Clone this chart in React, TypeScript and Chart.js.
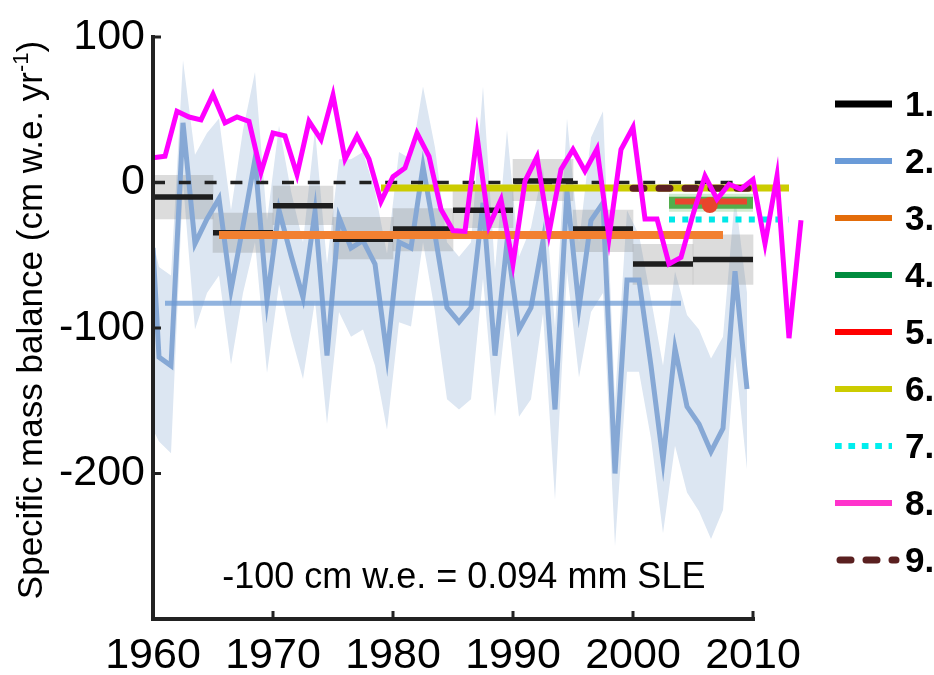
import React, { useEffect, useRef } from 'react';
import { Chart, registerables } from 'chart.js';

Chart.register(...registerables);

const FONT = "'Liberation Sans', Arial, Helvetica, sans-serif";

// ---------- axis ticks ----------
const xTickValues = [1960, 1970, 1980, 1990, 2000, 2010];
const yTickValues = [100, 0, -100, -200];

// ---------- series 8 (magenta, annual) ----------
const magentaYears = [
  1960, 1961, 1962, 1963, 1964, 1965, 1966, 1967, 1968, 1969,
  1970, 1971, 1972, 1973, 1974, 1975, 1976, 1977, 1978, 1979,
  1980, 1981, 1982, 1983, 1984, 1985, 1986, 1987, 1988, 1989,
  1990, 1991, 1992, 1993, 1994, 1995, 1996, 1997, 1998, 1999,
  2000, 2001, 2002, 2003, 2004, 2005, 2006, 2007, 2008, 2009,
  2010, 2011, 2012, 2013, 2014,
];
const magentaValues = [
  17, 18, 49, 45, 43, 60.5, 41, 45, 42, 7,
  34, 32, 5.5, 42, 29.5, 60, 16, 32, 16, -13,
  4, 10, 34, 18, -18.5, -33, -33.5, 32, -30, -11.7,
  -56, 1, 17.6, -34.6, 9, 22.7, 7.8, 23, -38, 22.7,
  38, -25, -25, -56, -51.5, -22, 4.5, -11.5, -1.2, -4.5,
  2, -42, 4.5, -107, -26,
];

// ---------- series 2 (blue, annual with uncertainty band) ----------
const blueYears = [
  1960, 1960.5, 1961.5, 1962.5, 1963.5, 1964.5, 1965.5, 1966.5, 1967.5, 1968.5,
  1969.5, 1970.5, 1971.5, 1972.5, 1973.5, 1974.5, 1975.5, 1976.5, 1977.5, 1978.5,
  1979.5, 1980.5, 1981.5, 1982.5, 1983.5, 1984.5, 1985.5, 1986.5, 1987.5, 1988.5,
  1989.5, 1990.5, 1991.5, 1992.5, 1993.5, 1994.5, 1995.5, 1996.5, 1997.5, 1998.5,
  1999.5, 2000.5, 2001.5, 2002.5, 2003.5, 2004.5, 2005.5, 2006.5, 2007.5, 2008.5,
  2009.5,
];
const blueValues = [
  -45, -120, -126, 41, -42, -25, -11, -74, -30, 16,
  -81, -19, -50, -79, -20, -119, -24, -45, -40, -56,
  -119, -41, -45, 11, -36, -86, -96, -86, -14, -119,
  -41, -101, -86, -40, -156, -6, -86, -26, -14, -200,
  -67, -67, -126, -191, -114, -154, -166, -185, -169, -61,
  -142,
];
const blueUpper = [
  -40, -58, -64, 84, 19, 34, 44, -19, 36, 76,
  -26, 39, -6, -41, 36, -56, 16, 16, 21, -6,
  -49, 21, 16, 66, 24, -41, -51, -41, 66, -60,
  36, -51, -31, 10, -100, 44, -41, 31, 49, -150,
  -19, -36, -80, -126, -61, -91, -101, -121, -106, -9,
  -76,
];
const blueLower = [
  -170, -178, -186, 0, -101, -76, -64, -125, -76, -41,
  -131, -70, -105, -135, -81, -166, -89, -106, -101, -126,
  -170, -96, -99, -41, -89, -149, -156, -149, -66, -161,
  -86, -161, -149, -90, -218, -61, -134, -89, -76, -250,
  -130, -130, -176, -241, -181, -213, -226, -245, -225, -119,
  -197,
];
const blueMeanSpan = [1961, 2004];
const blueMeanValue = -83;

// ---------- series 1 (black, pentadal means with grey uncertainty) ----------
const pentadStarts = [1960, 1965, 1970, 1975, 1980, 1985, 1990, 1995, 2000, 2005];
const pentadEnds = [1965, 1970, 1975, 1980, 1985, 1990, 1995, 2000, 2005, 2010];
const pentadMeans = [-10, -34.5, -16, -39, -32, -19, 1, -32, -56, -53];
const pentadHighs = [5, -21, -2.5, -24, -18, -6, 16, -19, -42.5, -36];
const pentadLows = [-25, -48, -29, -52.5, -47, -31, -12.5, -47.5, -70, -70];

// ---------- other period means ----------
const orangeSpan = [1965.5, 2007.5];
const orangeValue = -36;
const greenSpan = [2003, 2010];
const greenValue = -14;
const redSpan = [2003.5, 2009.5];
const redValue = -13;
const redPointYear = [2006.4];
const redPointValue = [-15.5];
const yellowSpan = [1979, 2013];
const yellowValue = -3.75;
const cyanSpan = [2003, 2013];
const cyanValue = -25.5;
const magentaEnd = 2014;
const brownSpan = [2000, 2010.5];
const brownValue = -4;
const zeroSpan = [1960, 2009];
const zeroValue = 0;

// ---------- legend ----------
const legendLabels = ['1.', '2.', '3.', '4.', '5.', '6.', '7.', '8.', '9.'];
const legendStyles = [
  { color: '#000000', width: 7, dash: [] as number[], cap: 'butt' },
  { color: '#6A9BD8', width: 6, dash: [] as number[], cap: 'butt' },
  { color: '#E36C0A', width: 6, dash: [] as number[], cap: 'butt' },
  { color: '#008C3E', width: 6, dash: [] as number[], cap: 'butt' },
  { color: '#FF0000', width: 6, dash: [] as number[], cap: 'butt' },
  { color: '#CCCC00', width: 6, dash: [] as number[], cap: 'butt' },
  { color: '#00EEEE', width: 6, dash: [6.7, 6.7], cap: 'butt' },
  { color: '#FF33CC', width: 6, dash: [] as number[], cap: 'butt' },
  { color: '#5A2020', width: 7, dash: [11, 15], cap: 'round' },
];

const annotationText = '-100 cm w.e. = 0.094 mm SLE';

const pts = (xs: number[], ys: number[]) => xs.map((x, i) => ({ x, y: ys[i] }));
const seg = (span: number[], v: number) => [
  { x: span[0], y: v },
  { x: span[1], y: v },
];

const decorPlugin = {
  id: 'decor',
  afterDraw(chart: any) {
    const { ctx, chartArea } = chart;
    const xs = chart.scales.x;
    const ys = chart.scales.y;
    ctx.save();

    // axes lines
    const x0 = xs.getPixelForValue(1960);
    const x1 = xs.getPixelForValue(2010);
    const yTop = ys.getPixelForValue(100);
    const yBot = ys.getPixelForValue(-300);
    ctx.strokeStyle = '#222222';
    ctx.lineWidth = 4;
    ctx.lineJoin = 'miter';
    ctx.lineCap = 'square';
    ctx.setLineDash([]);
    ctx.beginPath();
    ctx.moveTo(x0, yTop);
    ctx.lineTo(x0, yBot);
    ctx.lineTo(x1, yBot);
    ctx.stroke();
    ctx.lineCap = 'butt';
    ctx.lineWidth = 3;
    yTickValues.forEach((v) => {
      const y = ys.getPixelForValue(v);
      ctx.beginPath();
      ctx.moveTo(x0, y);
      ctx.lineTo(x0 + 8, y);
      ctx.stroke();
    });
    xTickValues.forEach((v) => {
      if (v === 1960) return;
      const x = xs.getPixelForValue(v);
      ctx.beginPath();
      ctx.moveTo(x, yBot);
      ctx.lineTo(x, yBot - 8);
      ctx.stroke();
    });

    // y-axis title with superscript
    ctx.fillStyle = '#000000';
    ctx.translate(42, (chartArea.top + chartArea.bottom) / 2 - 8);
    ctx.rotate(-Math.PI / 2);
    const main = 'Specific mass balance (cm w.e. yr';
    const sup = '-1';
    const tail = ')';
    ctx.textBaseline = 'alphabetic';
    ctx.textAlign = 'left';
    ctx.font = `35px ${FONT}`;
    const w1 = ctx.measureText(main).width;
    const w3 = ctx.measureText(tail).width;
    ctx.font = `22px ${FONT}`;
    const w2 = ctx.measureText(sup).width;
    let tx = -(w1 + w2 + w3) / 2;
    ctx.font = `35px ${FONT}`;
    ctx.fillText(main, tx, 0);
    tx += w1;
    ctx.font = `22px ${FONT}`;
    ctx.fillText(sup, tx, -14);
    tx += w2;
    ctx.font = `35px ${FONT}`;
    ctx.fillText(tail, tx, 0);
    ctx.setTransform(1, 0, 0, 1, 0, 0);

    // annotation
    ctx.font = `36px ${FONT}`;
    ctx.textAlign = 'center';
    ctx.textBaseline = 'alphabetic';
    ctx.fillStyle = '#000000';
    ctx.fillText(annotationText, xs.getPixelForValue(1985.9), ys.getPixelForValue(-278.7));

    // legend
    const lx0 = 835;
    const lx1 = 892;
    legendLabels.forEach((label, i) => {
      const st = legendStyles[i];
      const y = 104 + i * 57;
      ctx.strokeStyle = st.color;
      ctx.lineWidth = st.width;
      ctx.setLineDash(st.dash);
      ctx.lineCap = st.cap as CanvasLineCap;
      ctx.beginPath();
      if (st.cap === 'round') {
        ctx.moveTo(lx0 + 5, y);
        ctx.lineTo(lx1 + 4, y);
      } else {
        ctx.moveTo(lx0, y);
        ctx.lineTo(lx1, y);
      }
      ctx.stroke();
      ctx.setLineDash([]);
      ctx.font = `bold 35px ${FONT}`;
      ctx.textAlign = 'left';
      ctx.fillStyle = '#000000';
      ctx.fillText(label, 905, y + 12);
    });
    ctx.restore();
  },
};

const lineBase = {
  type: 'line',
  pointRadius: 0,
  fill: false,
  tension: 0,
  borderCapStyle: 'butt',
  borderJoinStyle: 'miter',
};

export default function App() {
  const canvasRef = useRef<HTMLCanvasElement | null>(null);

  useEffect(() => {
    if (!canvasRef.current) return;

    const blackSegments: any[] = [];
    pentadStarts.forEach((s, i) => {
      blackSegments.push({ x: s, y: pentadMeans[i] });
      blackSegments.push({ x: pentadEnds[i], y: pentadMeans[i] });
      blackSegments.push({ x: pentadEnds[i], y: null });
    });

    const datasets: any[] = [
      {
        ...lineBase,
        label: 'band upper',
        data: pts(blueYears, blueUpper),
        borderColor: 'rgba(0,0,0,0)',
        borderWidth: 1,
        backgroundColor: '#DCE6F2',
        fill: '+1',
        order: 100,
      },
      {
        ...lineBase,
        label: 'band lower',
        data: pts(blueYears, blueLower),
        borderColor: 'rgba(0,0,0,0)',
        borderWidth: 1,
        order: 100,
      },
      {
        type: 'bar',
        label: 'pentad uncertainty',
        data: pentadStarts.map((s, i) => ({
          x: (s + pentadEnds[i]) / 2,
          y: [pentadLows[i], pentadHighs[i]],
        })),
        backgroundColor: 'rgba(128,128,128,0.28)',
        borderWidth: 0,
        barPercentage: 1,
        categoryPercentage: 1,
        order: 90,
      },
      {
        ...lineBase,
        label: '2',
        data: pts(blueYears, blueValues),
        borderColor: '#86A8D5',
        borderWidth: 5,
        order: 80,
      },
      {
        ...lineBase,
        label: '2 mean',
        data: seg(blueMeanSpan, blueMeanValue),
        borderColor: 'rgba(110,155,212,0.75)',
        borderWidth: 5,
        order: 75,
      },
      {
        ...lineBase,
        label: '1',
        data: blackSegments,
        borderColor: '#1E1E1E',
        borderWidth: 5.5,
        spanGaps: false,
        order: 60,
      },
      {
        ...lineBase,
        label: '3',
        data: seg(orangeSpan, orangeValue),
        borderColor: '#F28030',
        borderWidth: 8,
        order: 55,
      },
      {
        ...lineBase,
        label: 'zero',
        data: seg(zeroSpan, zeroValue),
        borderColor: '#222222',
        borderWidth: 3.5,
        borderDash: [12, 13.8],
        order: 50,
      },
      {
        ...lineBase,
        label: '6',
        data: seg(yellowSpan, yellowValue),
        borderColor: '#CCCC00',
        borderWidth: 7,
        order: 45,
      },
      {
        ...lineBase,
        label: '4 halo',
        data: seg(greenSpan, greenValue),
        borderColor: 'rgba(150,210,150,0.45)',
        borderWidth: 18,
        order: 44,
      },
      {
        ...lineBase,
        label: '4',
        data: seg(greenSpan, greenValue),
        borderColor: '#52AE4C',
        borderWidth: 12,
        order: 43,
      },
      {
        ...lineBase,
        label: '5',
        data: seg(redSpan, redValue),
        borderColor: '#E8472E',
        borderWidth: 6,
        order: 42,
      },
      {
        ...lineBase,
        label: '5 point',
        data: pts(redPointYear, redPointValue),
        showLine: false,
        pointRadius: 8,
        pointBackgroundColor: '#E8452C',
        pointBorderWidth: 0,
        pointBorderColor: 'rgba(0,0,0,0)',
        order: 41,
      },
      {
        ...lineBase,
        label: '7',
        data: seg(cyanSpan, cyanValue),
        borderColor: '#00E8E8',
        borderWidth: 6,
        borderDash: [6, 7.3],
        order: 40,
      },
      {
        ...lineBase,
        label: '9',
        data: seg(brownSpan, brownValue),
        borderColor: '#5C2121',
        borderWidth: 7,
        borderDash: [11, 15],
        borderCapStyle: 'round',
        order: 35,
      },
      {
        ...lineBase,
        label: '8',
        data: pts(magentaYears, magentaValues),
        borderColor: '#FF00FF',
        borderWidth: 5,
        order: 0,
      },
    ];

    const chart = new Chart(canvasRef.current, {
      type: 'line',
      data: { datasets },
      options: {
        responsive: false,
        animation: false,
        events: [],
        layout: { padding: { top: 37, right: 121, left: 0, bottom: 0 } },
        plugins: {
          legend: { display: false },
          tooltip: { enabled: false },
          title: { display: false },
        },
        scales: {
          x: {
            type: 'linear',
            min: 1960,
            max: magentaEnd + 1,
            offset: false,
            grid: { display: false, drawTicks: false },
            border: { display: false },
            ticks: {
              stepSize: 10,
              includeBounds: false,
              autoSkip: false,
              maxRotation: 0,
              minRotation: 0,
              padding: 11,
              color: '#000000',
              font: { family: FONT, size: 43, lineHeight: 1.2 },
              callback: (v: any) => (xTickValues.includes(Number(v)) ? String(v) : ''),
            },
            afterFit: (s: any) => {
              s.height = 56;
            },
          },
          y: {
            type: 'linear',
            min: -300,
            max: 100,
            grid: { display: false, drawTicks: false },
            border: { display: false },
            ticks: {
              stepSize: 100,
              padding: 8,
              color: '#000000',
              font: { family: FONT, size: 43, lineHeight: 1.2 },
              callback: (v: any) => (yTickValues.includes(Number(v)) ? String(v) : ''),
            },
            afterFit: (s: any) => {
              s.width = 153;
            },
          },
        },
      } as any,
      plugins: [decorPlugin],
    } as any);

    return () => chart.destroy();
  }, []);

  return (
    <div
      style={{
        position: 'fixed',
        left: 0,
        top: 0,
        width: 934,
        height: 675,
        background: '#ffffff',
      }}
    >
      <canvas ref={canvasRef} width={934} height={675} />
    </div>
  );
}
